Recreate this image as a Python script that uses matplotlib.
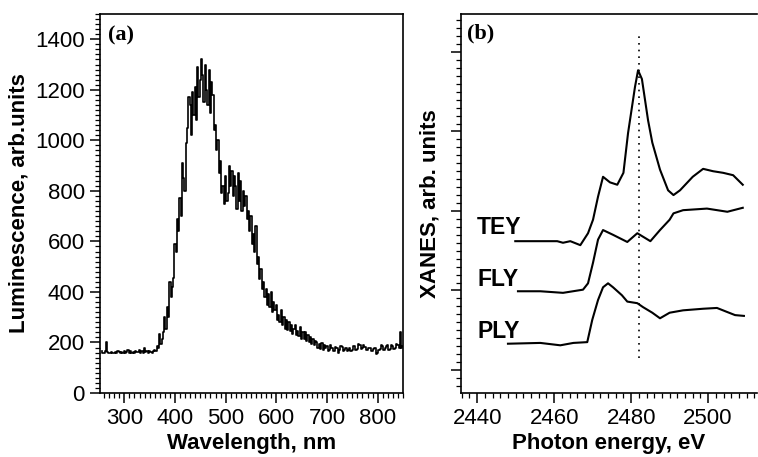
import numpy as np
import matplotlib
matplotlib.use('Agg')
import matplotlib.pyplot as plt
from matplotlib.ticker import MultipleLocator

plt.rcParams['font.family'] = ['Liberation Sans', 'DejaVu Sans']

# (a) luminescence spectrum, 255..850 nm every 2.5 nm
wl_start, wl_step = 255, 2.5
lum = [165, 160, 158, 168, 200, 162, 160, 157, 164, 160,
       157, 163, 160, 166, 161, 158, 163, 159, 165, 160,
       162, 170, 158, 165, 160, 164, 158, 167, 161, 163,
       170, 160, 166, 158, 178, 162, 165, 159, 168, 162,
       160, 166, 172, 165, 185, 178, 232, 195, 215, 240,
       300, 255, 340, 300, 440, 380, 420, 455, 590, 560,
       690, 640, 770, 700, 910, 850, 800, 990, 1050, 1170,
       1140, 1020, 1190, 1100, 1210, 1080, 1290, 1170, 1240, 1320,
       1260, 1150, 1300, 1200, 1140, 1280, 1110, 1230, 1180, 1040,
       1060, 960, 1000, 870, 920, 790, 820, 750, 860, 760,
       790, 900, 820, 880, 780, 860, 820, 730, 870, 760,
       840, 720, 800, 740, 780, 690, 720, 640, 700, 590,
       630, 560, 660, 510, 540, 450, 490, 410, 440, 380,
       410, 350, 390, 340, 400, 320, 360, 330, 350, 290,
       310, 280, 330, 270, 300, 255, 290, 250, 280, 245,
       270, 235, 255, 270, 230, 245, 225, 260, 215, 240,
       215, 240, 205, 230, 200, 220, 195, 215, 190, 205,
       200, 180, 195, 175, 198, 172, 190, 178, 185, 168,
       172, 188, 180, 165, 168, 182, 178, 160, 170, 185,
       182, 168, 172, 178, 165, 170, 180, 165, 170, 185,
       185, 172, 175, 192, 190, 175, 178, 188, 182, 170,
       172, 180, 178, 165, 165, 175, 180, 155, 160, 172,
       175, 190, 185, 170, 178, 185, 190, 172, 175, 188,
       185, 175, 178, 192, 190, 180, 240, 178, 185]
wavelength = wl_start + wl_step * np.arange(len(lum))

# (b) XANES spectra (arbitrary units, offset)
tey_e = [2449.9, 2460.8, 2462.3, 2464.2, 2466.8, 2468.8, 2470.1, 2471.4, 2472.7,
         2474.5, 2476.4, 2478.0, 2479.2, 2481.0, 2481.8, 2482.8, 2484.4, 2485.5,
         2487.5, 2489.6, 2491.0, 2492.7, 2496.0, 2498.7, 2501.3, 2503.9, 2506.5, 2509.0]
tey_y = [1.62, 1.62, 1.60, 1.62, 1.57, 1.72, 1.89, 2.18, 2.43,
         2.36, 2.33, 2.48, 2.98, 3.56, 3.77, 3.66, 3.14, 2.86,
         2.52, 2.26, 2.20, 2.26, 2.43, 2.53, 2.50, 2.48, 2.45, 2.33]

fly_e = [2450.6, 2456.4, 2462.3, 2467.5, 2468.8, 2470.1, 2471.4, 2472.7, 2475.3,
         2479.0, 2481.6, 2485.0, 2487.5, 2490.0, 2491.0, 2493.5, 2499.7, 2505.0, 2509.0]
fly_y = [0.99, 0.99, 0.97, 1.01, 1.09, 1.35, 1.64, 1.76, 1.70,
         1.61, 1.72, 1.62, 1.76, 1.89, 1.97, 2.01, 2.03, 1.99, 2.04]

ply_e = [2448.0, 2456.4, 2461.6, 2465.0, 2468.6, 2469.9, 2471.4, 2472.7, 2474.0,
         2475.3, 2477.6, 2479.0, 2481.6, 2483.1, 2485.5, 2487.5, 2490.0, 2493.5,
         2498.7, 2502.3, 2504.9, 2507.0, 2509.3]
ply_y = [0.33, 0.34, 0.31, 0.34, 0.35, 0.63, 0.88, 1.04, 1.09,
         1.04, 0.94, 0.86, 0.84, 0.79, 0.72, 0.65, 0.72, 0.75,
         0.77, 0.78, 0.73, 0.69, 0.68]

labels = ['TEY', 'FLY', 'PLY']
label_y = [1.79, 1.14, 0.48]
peak_e = 2482
peak_span = [0.15, 4.21]

fig = plt.figure(figsize=(7.58, 4.57), dpi=100)
ax1 = fig.add_axes([100/758, 1-393/457, 303/758, 379/457])
ax2 = fig.add_axes([461/758, 1-393/457, 296/758, 379/457])

def style(ax):
    for s in ax.spines.values():
        s.set_linewidth(1.2)
    ax.tick_params(which='major', direction='out', length=7, width=1.1,
                   labelsize=16, top=False, right=False, pad=4)
    ax.tick_params(which='minor', direction='out', length=3.5, width=0.9,
                   top=False, right=False)

ax1.plot(wavelength, lum, color='black', lw=1.2, drawstyle='steps-mid')
ax1.set_xlim(252, 850)
ax1.set_ylim(0, 1500)
ax1.xaxis.set_major_locator(MultipleLocator(100))
ax1.xaxis.set_minor_locator(MultipleLocator(10))
ax1.yaxis.set_major_locator(MultipleLocator(200))
ax1.yaxis.set_minor_locator(MultipleLocator(20))
ax1.set_yticks(range(0, 1401, 200))
ax1.set_xticks(range(300, 801, 100))
style(ax1)
ax1.set_xlabel('Wavelength, nm', fontsize=16, fontweight='bold', labelpad=3)
ax1.set_ylabel('Luminescence, arb.units', fontsize=16, fontweight='bold', labelpad=4)
ax1.text(0.025, 0.97, '(a)', transform=ax1.transAxes, ha='left', va='top',
         fontsize=16, fontweight='bold', family=['Liberation Serif', 'DejaVu Serif'])

for e, y in [(tey_e, tey_y), (fly_e, fly_y), (ply_e, ply_y)]:
    ax2.plot(e, y, color='black', lw=1.5)
ax2.vlines(peak_e, peak_span[0], peak_span[1], colors='black', lw=1.2,
           linestyles=(0, (1, 3)))
for lab, y in zip(labels, label_y):
    ax2.text(2440, y, lab, fontsize=16.5, fontweight='bold', ha='left', va='center')
ax2.set_xlim(2435.8, 2512.7)
ax2.set_ylim(-0.29, 4.478)
ax2.xaxis.set_major_locator(MultipleLocator(20))
ax2.xaxis.set_minor_locator(MultipleLocator(2))
ax2.yaxis.set_major_locator(MultipleLocator(1))
ax2.yaxis.set_minor_locator(MultipleLocator(0.1))
ax2.set_xticks([2440, 2460, 2480, 2500])
style(ax2)
ax2.tick_params(labelleft=False)
ax2.spines['right'].set_visible(False)
ax2.set_xlabel('Photon energy, eV', fontsize=16, fontweight='bold', labelpad=3)
ax2.set_ylabel('XANES, arb. units', fontsize=16, fontweight='bold', labelpad=8)
ax2.text(0.02, 0.975, '(b)', transform=ax2.transAxes, ha='left', va='top',
         fontsize=16, fontweight='bold', family=['Liberation Serif', 'DejaVu Serif'])

fig.savefig('out.png', dpi=100)
